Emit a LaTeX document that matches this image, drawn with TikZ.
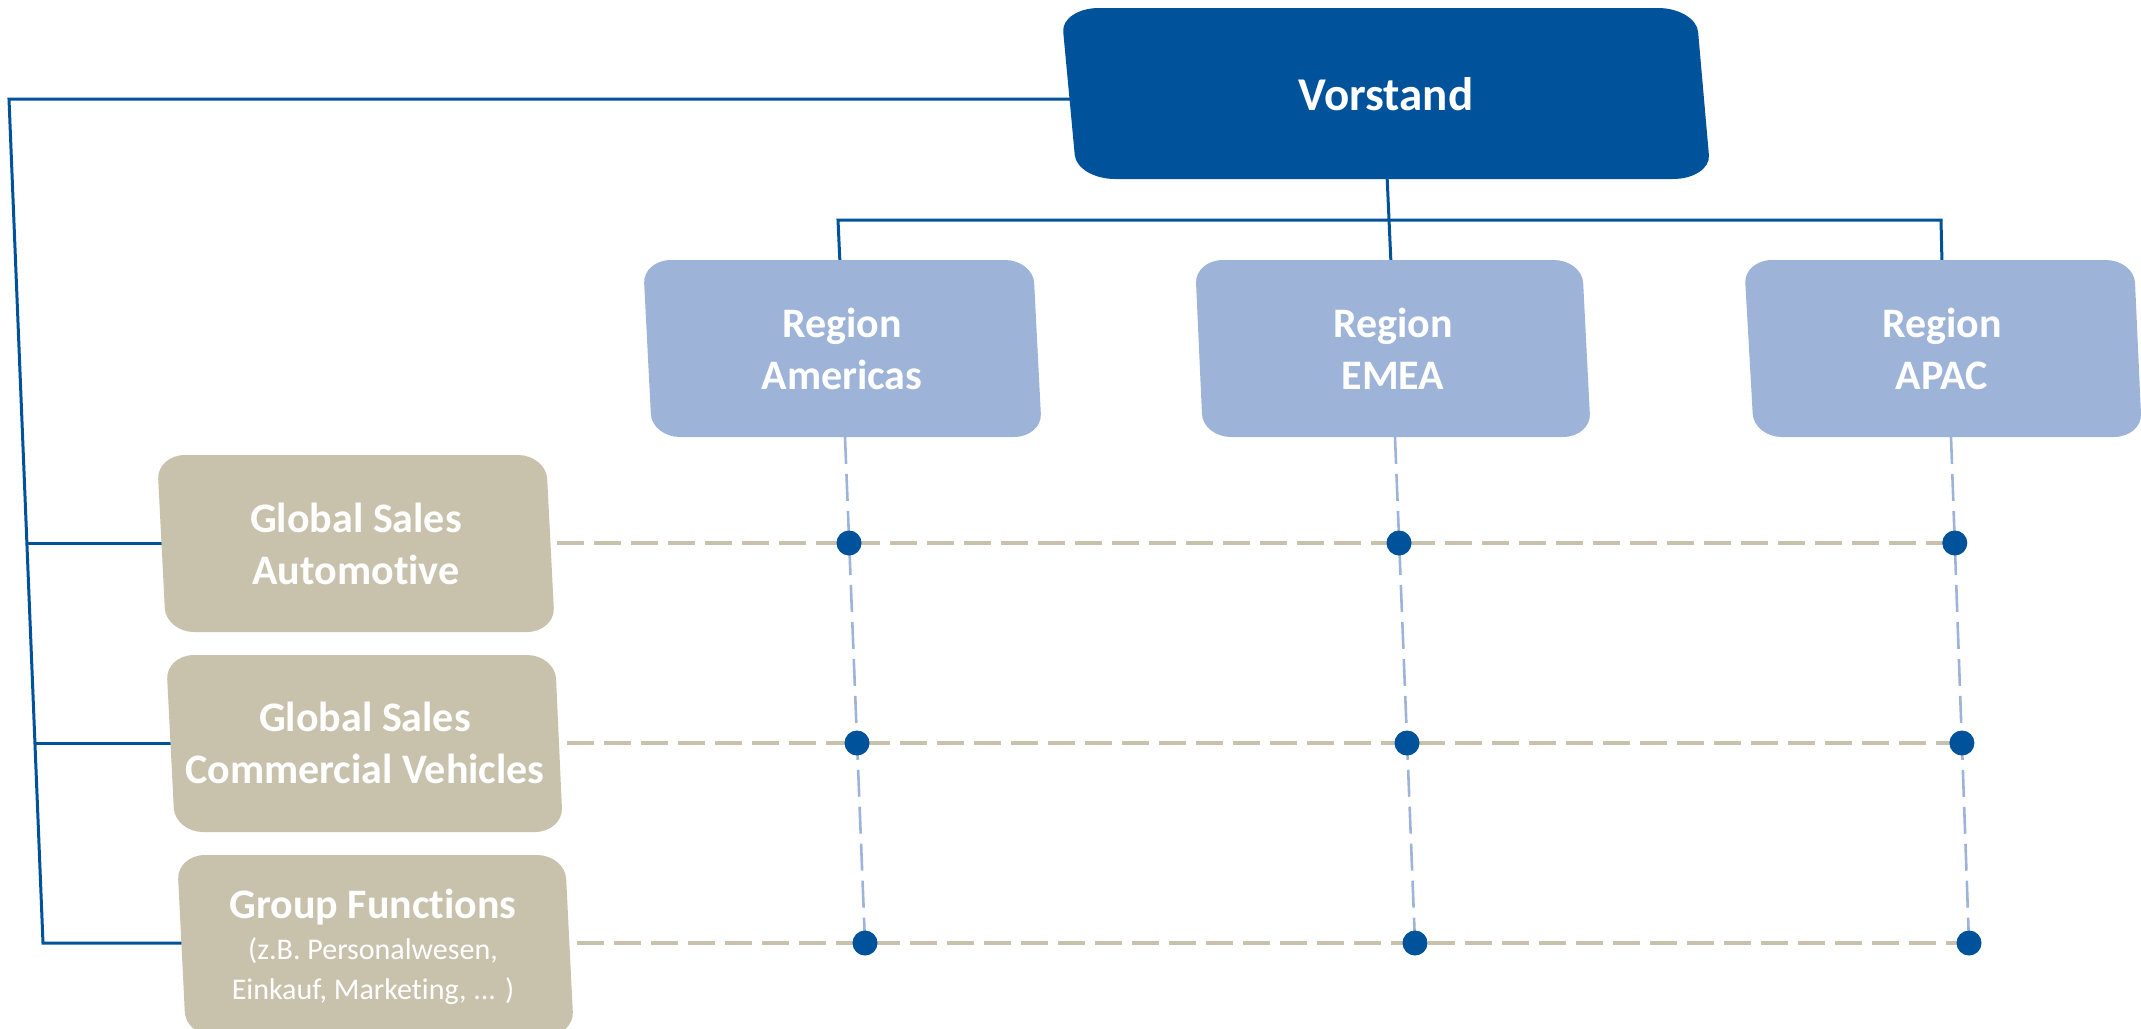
\documentclass[tikz,border=0pt]{standalone}
\usepackage{fontspec}
\setmainfont[Ligatures=NoCommon]{Carlito}
\usetikzlibrary{calc}
\definecolor{vblue}{RGB}{0,82,155}
\definecolor{rblue}{RGB}{157,180,216}
\definecolor{gtan}{RGB}{200,194,173}
% #1 colour, #2 x left top, #3 x right top, #4 y top, #5 x left bottom, #6 x right bottom, #7 y bottom, #8 rx, #9 ry
\newcommand{\slantbox}[9]{%
  \pgfmathsetmacro\rsbL{(#5-#2)/(#7-#4)}%
  \pgfmathsetmacro\rsbR{(#6-#3)/(#7-#4)}%
  \pgfmathsetmacro\raLx{#2+\rsbL*#9}%
  \pgfmathsetmacro\rbLx{#5-\rsbL*#9}%
  \pgfmathsetmacro\raRx{#3+\rsbR*#9}%
  \pgfmathsetmacro\rbRx{#6-\rsbR*#9}%
  \fill[#1] ({#2+#8},#4) -- ({#3-#8},#4)
    .. controls ({#3-0.448*#8},#4) and ({\raRx-\rsbR*0.552*#9},{#4+0.448*#9}) .. (\raRx,{#4+#9})
    -- (\rbRx,{#7-#9})
    .. controls ({\rbRx+\rsbR*0.552*#9},{#7-0.448*#9}) and ({#6-0.448*#8},#7) .. ({#6-#8},#7)
    -- ({#5+#8},#7)
    .. controls ({#5+0.448*#8},#7) and ({\rbLx+\rsbL*0.552*#9},{#7-0.448*#9}) .. (\rbLx,{#7-#9})
    -- (\raLx,{#4+#9})
    .. controls ({\raLx-\rsbL*0.552*#9},{#4+0.448*#9}) and ({#2+0.448*#8},#4) .. ({#2+#8},#4)
    -- cycle;}
\begin{document}
\begin{tikzpicture}[x=1pt,y=-1pt,
  conn/.style={draw=vblue,line width=3pt,line join=miter},
  tandash/.style={draw=gtan,line width=3.5pt,dash pattern=on 27pt off 10pt},
  bluedash/.style={draw=rblue,line width=2.6pt,dash pattern=on 27pt off 10pt},
  dot/.style={circle,fill=vblue,inner sep=0pt,minimum size=25pt},
  boxtext/.style={text=white,align=center,anchor=base,inner sep=0pt,
    font=\fontsize{42}{52}\selectfont\bfseries},
  toptext/.style={text=white,anchor=base,inner sep=0pt,
    font=\fontsize{47}{56}\selectfont\bfseries}]
\useasboundingbox (0,0) rectangle (2141,1028);

% ---- named points for connectors
\coordinate (vs-l) at (1070,99);
\coordinate (corner) at (9,99);
\coordinate (lbot) at (43,943);
\coordinate (j1) at (27.4,543);
\coordinate (j2) at (35.2,743);
\coordinate (gsa-l) at (170,543);
\coordinate (gsc-l) at (178,743);
\coordinate (gf-l) at (190,943);
\coordinate (vs-b) at (1387,175);
\coordinate (em-t) at (1391,264);
\coordinate (bus-l) at (838,220);
\coordinate (bus-r) at (1941,220);
\coordinate (am-t) at (840,264);
\coordinate (ap-t) at (1942,264);

% ---- solid connectors
\draw[conn] (vs-l) -- (corner) -- (lbot) -- (gf-l);
\draw[conn] (j1) -- (gsa-l);
\draw[conn] (j2) -- (gsc-l);
\draw[conn] (vs-b) -- (em-t);
\draw[conn] (am-t) -- (bus-l) -- (bus-r) -- (ap-t);

% ---- boxes
\slantbox{vblue}{1061}{1696}{8}{1077}{1711}{179}{38}{24}
\slantbox{rblue}{643}{1033}{260}{652}{1042}{437}{28}{23}
\slantbox{rblue}{1195}{1582}{260}{1203}{1591}{437}{28}{23}
\slantbox{rblue}{1744}{2134}{260}{1754}{2142}{437}{28}{23}
\slantbox{gtan}{157}{546}{455}{166}{555}{632}{28}{24}
\slantbox{gtan}{166}{555}{655}{175}{563}{832}{28}{24}
\slantbox{gtan}{177}{565}{855}{186}{574}{1036}{28}{24}

% ---- matrix points
\coordinate (am-b) at (845,437);
\coordinate (em-b) at (1395,437);
\coordinate (ap-b) at (1951,437);
\coordinate (am-e) at (865,943);
\coordinate (em-e) at (1415,943);
\coordinate (ap-e) at (1969,943);
\coordinate (r1) at (557,543);
\coordinate (r2) at (567,743);
\coordinate (r3) at (577,943);

\path (849,543) coordinate (p11) (1399,543) coordinate (p12) (1954.8,543) coordinate (p13)
      (857,743) coordinate (p21) (1407,743) coordinate (p22) (1961.9,743) coordinate (p23);

% ---- dashed lines
\draw[bluedash] (am-b) -- (am-e);
\draw[bluedash] (em-b) -- (em-e);
\draw[bluedash] (ap-b) -- (ap-e);
\draw[tandash] (r1) -- (p13);
\draw[tandash] (r2) -- (p23);
\draw[tandash] (r3) -- (ap-e);

% ---- dots
\node[dot] (d11) at (p11) {};
\node[dot] (d12) at (p12) {};
\node[dot] (d13) at (p13) {};
\node[dot] (d21) at (p21) {};
\node[dot] (d22) at (p22) {};
\node[dot] (d23) at (p23) {};
\node[dot] (d31) at (am-e) {};
\node[dot] (d32) at (em-e) {};
\node[dot] (d33) at (ap-e) {};

% ---- texts (base anchor = baseline of the last line)
\node[toptext] (vorstand) at (1386,110) {Vorstand};
\node[boxtext] (americas) at (842,389) {Region\\Americas};
\node[boxtext] (emea) at (1393,389) {Region\\EMEA};
\node[boxtext] (apac) at (1942,389) {Region\\APAC};
\node[boxtext] (gsa) at (356,584) {Global Sales\\Automotive};
\node[boxtext] (gsc) at (365,783) {Global Sales\\Commercial Vehicles};
\node[text=white,align=center,anchor=base,inner sep=0pt,
  font=\fontsize{30}{39.5}\selectfont] (gf) at (373,999)
  {{\fontsize{42}{52}\selectfont\bfseries Group Functions}\\[2pt](z.B. Personalwesen,\\Einkauf, Marketing, ... )};
\end{tikzpicture}
\end{document}
